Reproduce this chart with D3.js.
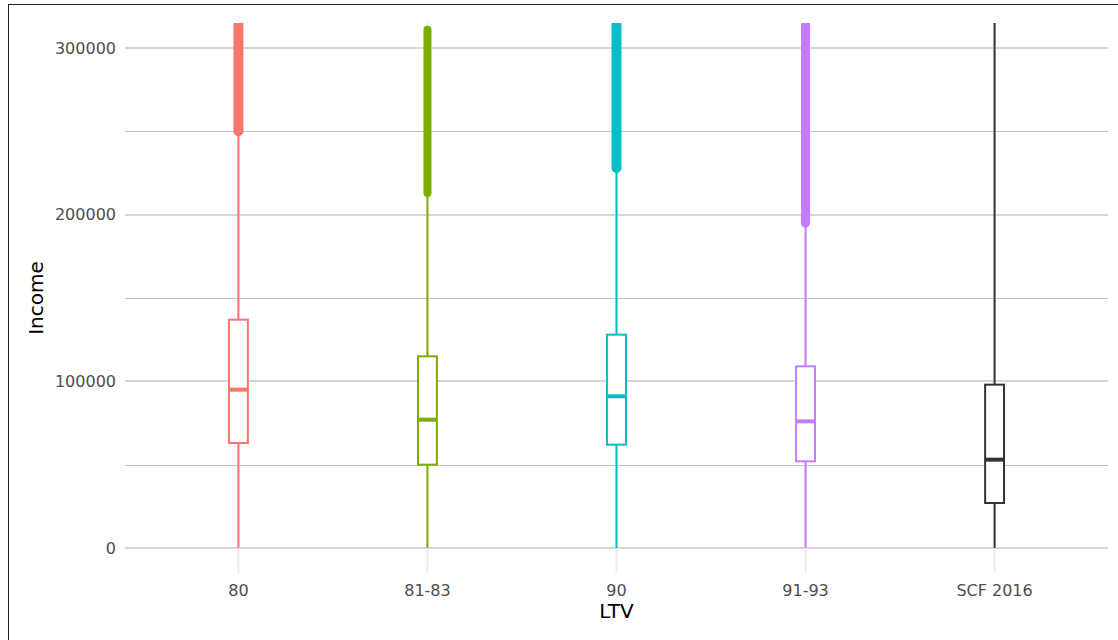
<!DOCTYPE html>
<html><head><meta charset="utf-8">
<script src="https://cdn.jsdelivr.net/npm/d3@7"></script>
<style>body{margin:0;background:#fff;}svg{display:block;font-family:"DejaVu Sans",sans-serif;}</style>
</head><body><svg id="c" width="1118" height="640"></svg>
<script>
const categories = ["80","81-83","90","91-93","SCF 2016"];
const colors = ["#F8766D","#7CAE00","#00BFC4","#C77CFF","#333333"];
const whiskerLow = [0,0,0,0,0];
const q1 = [63000,50000,62000,52000,27000];
const median = [95000,77000,91000,76000,53000];
const q3 = [137000,115000,128000,109000,98000];
const whiskerHigh = [249000,212000,227000,194000,400000];
const outlierMin = [250000,213000,228000,195000,null];
const outlierMax = [400000,311000,400000,400000,null];
const outlierSize = [10,8,10,9,0];
const yTicks = [0,100000,200000,300000];
const yMinor = [50000,150000,250000];
const yView = [0,300000];

(function(){
const svg = d3.select("#c");
const pL=125,pR=1108,pT=23,pB=573;
svg.append("rect").attr("x",8.5).attr("y",4.5).attr("width",1200).attr("height",700).attr("fill","#fff").attr("stroke","#222").attr("stroke-width",1);

const pad=(yView[1]-yView[0])*0.05;
const y=d3.scaleLinear().domain([yView[0]-pad,yView[1]+pad]).range([pB,pT]);
const x=d3.scalePoint().domain(categories).range([pL,pR]).padding(0.6);
const bw=x.step()*0.1;

svg.append("defs").append("clipPath").attr("id","clip").append("rect").attr("x",pL).attr("y",pT).attr("width",pR-pL).attr("height",pB-pT);

const g=svg.append("g");
g.selectAll(".minor").data(yMinor).join("line").attr("x1",pL).attr("x2",pR).attr("y1",d=>Math.round(y(d))+0.5).attr("y2",d=>Math.round(y(d))+0.5).attr("stroke","#c2c2c2").attr("stroke-width",1);
g.selectAll(".major").data(yTicks).join("line").attr("x1",pL).attr("x2",pR).attr("y1",d=>Math.round(y(d))).attr("y2",d=>Math.round(y(d))).attr("stroke","#d6d6d6").attr("stroke-width",2);
g.selectAll(".vg").data(categories).join("line").attr("x1",d=>x(d)).attr("x2",d=>x(d)).attr("y1",pT).attr("y2",pB).attr("stroke","#ebebeb").attr("stroke-width",2);

const p=svg.append("g").attr("clip-path","url(#clip)");
categories.forEach((c,i)=>{
  const cx=x(c), col=colors[i];
  const gg=p.append("g");
  gg.append("line").attr("x1",cx).attr("x2",cx).attr("y1",y(whiskerLow[i])).attr("y2",y(q1[i])).attr("stroke",col).attr("stroke-width",2);
  gg.append("line").attr("x1",cx).attr("x2",cx).attr("y1",y(q3[i])).attr("y2",y(whiskerHigh[i])).attr("stroke",col).attr("stroke-width",2);
  gg.append("rect").attr("x",cx-bw/2).attr("y",y(q3[i])).attr("width",bw).attr("height",y(q1[i])-y(q3[i])).attr("fill","#fff").attr("stroke",col).attr("stroke-width",2);
  gg.append("line").attr("x1",cx-bw/2).attr("x2",cx+bw/2).attr("y1",y(median[i])).attr("y2",y(median[i])).attr("stroke",col).attr("stroke-width",4);
  if(outlierMin[i]!==null){
    gg.append("line").attr("x1",cx).attr("x2",cx).attr("y1",y(outlierMin[i])).attr("y2",y(outlierMax[i])).attr("stroke",col).attr("stroke-width",outlierSize[i]).attr("stroke-linecap","round");
  }
});

svg.selectAll(".yl").data(yTicks).join("text").attr("x",116).attr("y",d=>y(d)).attr("dy","0.35em").attr("text-anchor","end").attr("fill","#4d4d4d").attr("font-size",16).text(d=>d);
svg.selectAll(".xl").data(categories).join("text").attr("x",d=>x(d)).attr("y",590).attr("dy","0.35em").attr("text-anchor","middle").attr("fill","#4d4d4d").attr("font-size",16).text(d=>d);
svg.append("text").attr("x",(pL+pR)/2).attr("y",611).attr("dy","0.35em").attr("text-anchor","middle").attr("font-size",20).attr("fill","#000").text("LTV");
svg.append("text").attr("transform",`translate(36,${(pT+pB)/2}) rotate(-90)`).attr("dy","0.35em").attr("text-anchor","middle").attr("font-size",20).attr("fill","#000").text("Income");
})();
</script></body></html>
